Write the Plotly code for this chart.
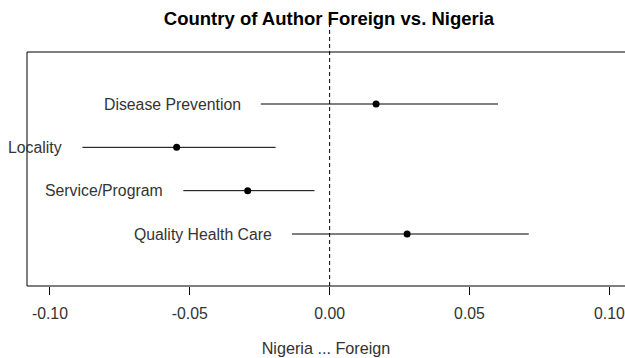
import plotly.graph_objects as go

categories = ["Disease Prevention", "Locality", "Service/Program", "Quality Health Care"]
estimates = [0.0166, -0.0547, -0.0293, 0.0277]
lower = [-0.0246, -0.0884, -0.0523, -0.0135]
upper = [0.0602, -0.0193, -0.0054, 0.0712]
positions = [4, 3, 2, 1]
tick_vals = [-0.10, -0.05, 0.00, 0.05, 0.10]
tick_text = ["-0.10", "-0.05", "0.00", "0.05", "0.10"]

FONT = "Liberation Sans, Arial, sans-serif"

fig = go.Figure()
fig.add_trace(go.Scatter(
    x=estimates, y=positions, mode="markers",
    marker=dict(color="black", size=7),
    error_x=dict(type="data", symmetric=False,
                 array=[u - e for u, e in zip(upper, estimates)],
                 arrayminus=[e - l for e, l in zip(estimates, lower)],
                 color="black", thickness=1, width=0),
    showlegend=False, hoverinfo="skip",
))

for cat, lo, pos in zip(categories, lower, positions):
    fig.add_annotation(x=lo, y=pos, text=cat, showarrow=False,
                       xanchor="right", yanchor="middle", xshift=-18,
                       font=dict(family=FONT, size=15.8, color="#333"))

# box (right side falls outside the visible window)
fig.add_shape(type="rect", xref="x domain", yref="y domain",
              x0=0, x1=1.05, y0=0, y1=1, line=dict(color="black", width=1))
# dashed zero line reaching up to the title
fig.add_shape(type="line", xref="x", yref="y domain", x0=0, x1=0, y0=0, y1=1.15,
              line=dict(color="black", width=1, dash="4px,3px"))

fig.update_layout(
    width=625, height=358,
    margin=dict(l=27, r=0, t=52, b=72),
    paper_bgcolor="white", plot_bgcolor="white",
    font=dict(family=FONT, size=15.8, color="#333"),
    title=dict(text="<b>Country of Author Foreign vs. Nigeria</b>",
               x=329 / 625, xanchor="center", xref="container",
               y=1 - 19 / 358, yanchor="middle", yref="container",
               font=dict(family=FONT, size=18.5, color="black")),
    xaxis=dict(range=[-0.1082, 0.1056], tickvals=tick_vals, ticktext=tick_text,
               showgrid=False, zeroline=False, showline=False,
               ticks="outside", ticklen=8, tickcolor="black", tickwidth=1,
               ticklabelstandoff=5,
               title=dict(text="Nigeria ... Foreign", standoff=21,
                          font=dict(family=FONT, size=16.2, color="#333"))),
    yaxis=dict(range=[-0.2, 5.2], showgrid=False, zeroline=False,
               showticklabels=False, ticks="", showline=False),
)

fig.write_html("out.html")
